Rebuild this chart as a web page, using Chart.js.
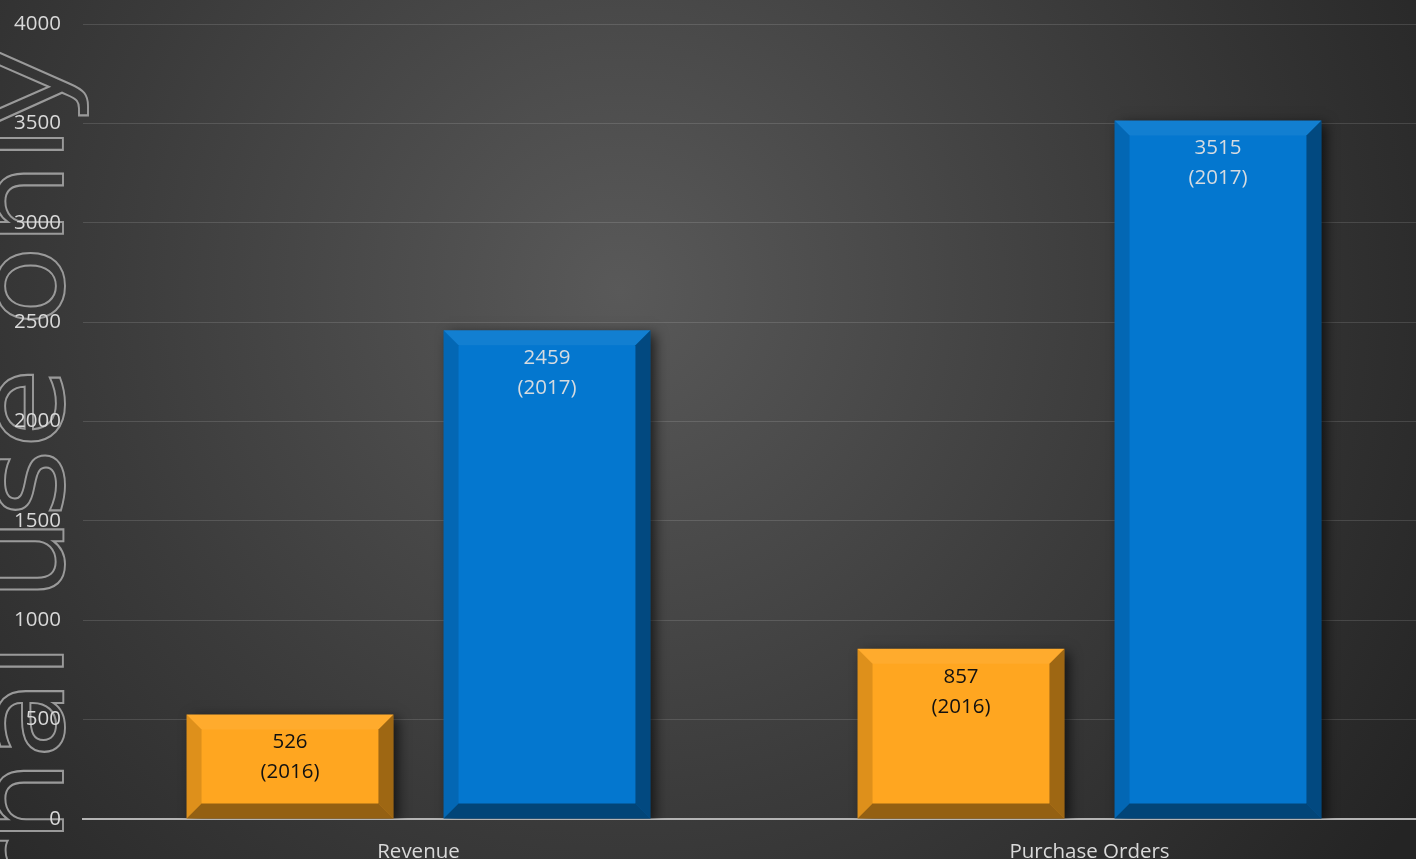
<!DOCTYPE html>
<html>
<head>
<meta charset="utf-8">
<script src="https://cdn.jsdelivr.net/npm/chart.js@4/dist/chart.umd.min.js"></script>
<style>
html,body{margin:0;padding:0;overflow:hidden;background:#2a2a2a;width:1416px;height:859px;}
#wrap{width:1425px;height:859px;}
</style>
</head>
<body>
<div id="wrap"><canvas id="c" width="1425" height="859"></canvas></div>
<script>
const categories = ["Revenue", "Purchase Orders"];
const seriesNames = ["2016", "2017"];
const values2016 = [526, 857];
const values2017 = [2459, 3515];
const yTicks = [0, 500, 1000, 1500, 2000, 2500, 3000, 3500, 4000];
const watermarkText = "For internal use only";

const FONT = "'Open Sans', 'DejaVu Sans', sans-serif";
const FS = 20.5;

const bgPlugin = {
  id: 'bg',
  beforeDraw(chart) {
    const ctx = chart.ctx;
    const w = chart.width, h = chart.height;
    ctx.save();
    const g = ctx.createRadialGradient(620, 290, 0, 620, 290, 950);
    g.addColorStop(0, '#595959');
    g.addColorStop(0.55, '#3b3b3b');
    g.addColorStop(1, '#242424');
    ctx.fillStyle = g;
    ctx.fillRect(0, 0, w, h);
    ctx.translate(63, 48);
    ctx.rotate(-Math.PI / 2);
    ctx.font = "120px 'DejaVu Sans', sans-serif";
    const tail = ctx.measureText("nal use only").width;
    const s = 795 / tail;
    ctx.scale(s, 1);
    ctx.textAlign = 'right';
    ctx.textBaseline = 'alphabetic';
    ctx.strokeStyle = 'rgba(165,165,165,0.9)';
    ctx.lineWidth = 1.9;
    ctx.strokeText(watermarkText, 0, 0);
    ctx.restore();
  }
};

const bevelPlugin = {
  id: 'bevel',
  beforeDatasetsDraw(chart) {
    const ctx = chart.ctx;
    ctx.save();
    ctx.shadowColor = 'rgba(0,0,0,0.65)';
    ctx.shadowBlur = 12;
    ctx.shadowOffsetX = 5;
    ctx.shadowOffsetY = 4;
  },
  afterDatasetsDraw(chart) {
    const ctx = chart.ctx;
    ctx.restore();
    const b = 15;
    chart.data.datasets.forEach((ds, di) => {
      const meta = chart.getDatasetMeta(di);
      meta.data.forEach((bar, i) => {
        const l = bar.x - bar.width / 2, r = bar.x + bar.width / 2;
        const t = bar.y, bt = bar.base;
        ctx.save();
        ctx.fillStyle = 'rgba(255,255,255,0.06)';
        ctx.beginPath(); ctx.moveTo(l, t); ctx.lineTo(r, t); ctx.lineTo(r - b, t + b); ctx.lineTo(l + b, t + b); ctx.closePath(); ctx.fill();
        ctx.fillStyle = 'rgba(0,0,0,0.13)';
        ctx.beginPath(); ctx.moveTo(l, t); ctx.lineTo(l + b, t + b); ctx.lineTo(l + b, bt - b); ctx.lineTo(l, bt); ctx.closePath(); ctx.fill();
        ctx.fillStyle = 'rgba(0,0,0,0.38)';
        ctx.beginPath(); ctx.moveTo(r, t); ctx.lineTo(r - b, t + b); ctx.lineTo(r - b, bt - b); ctx.lineTo(r, bt); ctx.closePath(); ctx.fill();
        ctx.fillStyle = 'rgba(0,0,0,0.42)';
        ctx.beginPath(); ctx.moveTo(l, bt); ctx.lineTo(l + b, bt - b); ctx.lineTo(r - b, bt - b); ctx.lineTo(r, bt); ctx.closePath(); ctx.fill();
        ctx.font = FS + 'px ' + FONT;
        ctx.textAlign = 'center';
        ctx.textBaseline = 'middle';
        ctx.fillStyle = di === 0 ? '#111111' : '#d6dbe0';
        ctx.fillText(String(ds.data[i]), bar.x, t + 28);
        ctx.fillText('(' + seriesNames[di] + ')', bar.x, t + 58);
        ctx.restore();
      });
    });
  }
};

new Chart(document.getElementById('c'), {
  type: 'bar',
  data: {
    labels: categories,
    datasets: [
      { label: seriesNames[0], data: values2016, backgroundColor: '#FFA620', borderWidth: 0,
        barPercentage: 0.805, categoryPercentage: 0.766 },
      { label: seriesNames[1], data: values2017, backgroundColor: '#0477CF', borderWidth: 0,
        barPercentage: 0.805, categoryPercentage: 0.766 }
    ]
  },
  options: {
    responsive: false,
    animation: false,
    layout: { padding: { top: 24, right: 0, bottom: 0, left: 0 } },
    plugins: { legend: { display: false }, tooltip: { enabled: false } },
    scales: {
      x: {
        z: 1,
        grid: { display: false, drawTicks: false },
        border: { display: true, color: '#b4b4b4', width: 2 },
        ticks: { color: '#d9d9d9', font: { family: FONT, size: FS }, padding: 21 },
        afterFit(scale) { scale.height = 40; scale.paddingLeft = 0; scale.paddingRight = 0; }
      },
      y: {
        min: 0, max: 4000,
        afterBuildTicks(scale) { scale.ticks = yTicks.map(v => ({ value: v })); },
        grid: { color: 'rgba(255,255,255,0.13)', lineWidth: 1, drawTicks: false },
        border: { display: false },
        ticks: { color: '#d9d9d9', font: { family: FONT, size: FS }, padding: 22,
                 callback: (v) => String(v) },
        afterFit(scale) { scale.width = 83; scale.paddingTop = 0; scale.paddingBottom = 0; }
      }
    }
  },
  plugins: [bgPlugin, bevelPlugin]
});
</script>
</body>
</html>
